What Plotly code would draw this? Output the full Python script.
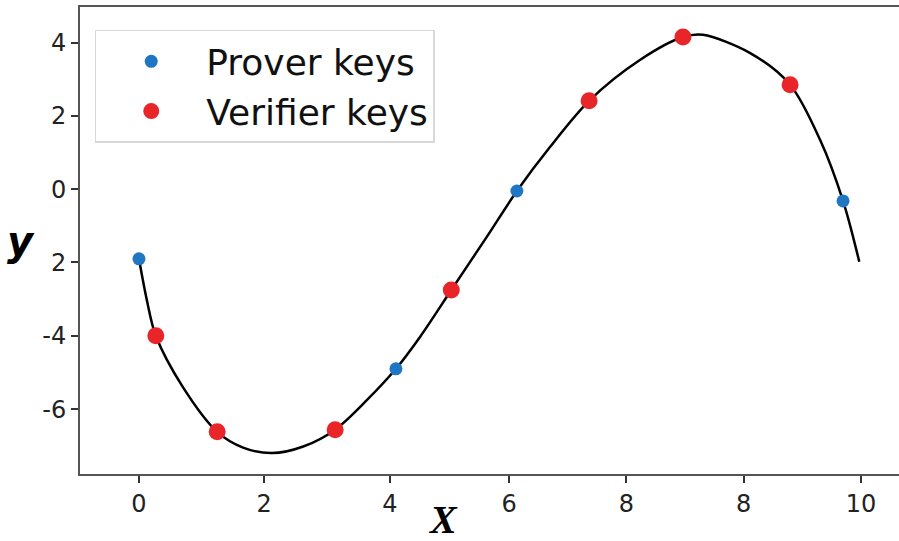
import plotly.graph_objects as go

# Curve sample points
curve_x = [0.0, 0.13, 0.28, 0.73, 1.30, 1.73, 2.21, 2.73, 3.26, 3.79, 4.27, 4.67, 5.19, 5.78, 6.28, 6.83, 7.48, 8.33, 9.04, 9.37, 10.15, 10.82, 11.32, 11.70, 11.97]
curve_y = [-1.90, -3.02, -4.00, -5.40, -6.62, -7.05, -7.20, -7.02, -6.56, -5.75, -4.90, -4.03, -2.75, -1.30, -0.05, 1.15, 2.41, 3.53, 4.15, 4.21, 3.72, 2.85, 1.34, -0.32, -1.98]

# Prover keys (blue)
prover_x = [0.0, 4.27, 6.28, 11.70]
prover_y = [-1.90, -4.90, -0.05, -0.32]

# Verifier keys (red)
verifier_x = [0.28, 1.30, 3.26, 5.19, 7.48, 9.04, 10.82]
verifier_y = [-4.00, -6.62, -6.56, -2.75, 2.41, 4.15, 2.85]

# Tick labels as shown in the picture
x_tickvals = [0, 2.08, 4.17, 6.15, 8.1, 10.05, 12]
x_ticktext = ["0", "2", "4", "6", "8", "8", "10"]
y_tickvals = [4, 2, 0, -2, -4, -6]
y_ticktext = ["4", "2", "0", "2", "-4", "-6"]

fig = go.Figure()
fig.add_trace(go.Scatter(x=curve_x, y=curve_y, mode="lines",
                         line=dict(color="black", width=2.5, shape="spline", smoothing=0.9),
                         showlegend=False, hoverinfo="skip"))
fig.add_trace(go.Scatter(x=prover_x, y=prover_y, mode="markers", name="Prover keys",
                         marker=dict(color="#1f77c4", size=13)))
fig.add_trace(go.Scatter(x=verifier_x, y=verifier_y, mode="markers", name="Verifier keys",
                         marker=dict(color="#e8262a", size=17)))

axis_font = dict(family="DejaVu Sans", size=24, color="#222")
fig.update_layout(
    width=899, height=541,
    margin=dict(l=80, r=0, t=7, b=67),
    paper_bgcolor="white", plot_bgcolor="white",
    showlegend=True,
    legend=dict(x=0.018, y=0.951, xanchor="left", yanchor="top",
                bgcolor="rgba(255,255,255,0.9)", bordercolor="#d8d8d8", borderwidth=1.5,
                font=dict(family="DejaVu Sans", size=36, color="#111"),
                itemsizing="trace", itemwidth=100),
    xaxis=dict(range=[-0.98, 12.63], tickvals=x_tickvals, ticktext=x_ticktext,
               showgrid=False, zeroline=False, showline=True, linecolor="#555", linewidth=2,
               mirror=True, ticks="outside", ticklen=7, tickwidth=1.5, tickcolor="#333",
               tickfont=axis_font),
    yaxis=dict(range=[-7.77, 4.97], tickvals=y_tickvals, ticktext=y_ticktext,
               showgrid=False, zeroline=False, showline=True, linecolor="#555", linewidth=2,
               ticks="outside", ticklen=7, tickwidth=1.5, tickcolor="#333",
               tickfont=axis_font),
    annotations=[
        dict(text="<b><i>y</i></b>", xref="paper", yref="paper", x=-0.072, y=0.50,
             xanchor="center", yanchor="middle", showarrow=False,
             font=dict(family="DejaVu Sans", size=40, color="black")),
        dict(text="<b><i>X</i></b>", xref="paper", yref="paper", x=0.443, y=-0.098,
             xanchor="center", yanchor="middle", showarrow=False,
             font=dict(family="Liberation Sans Narrow", size=40, color="black")),
    ],
)
fig.write_html("out.html")
